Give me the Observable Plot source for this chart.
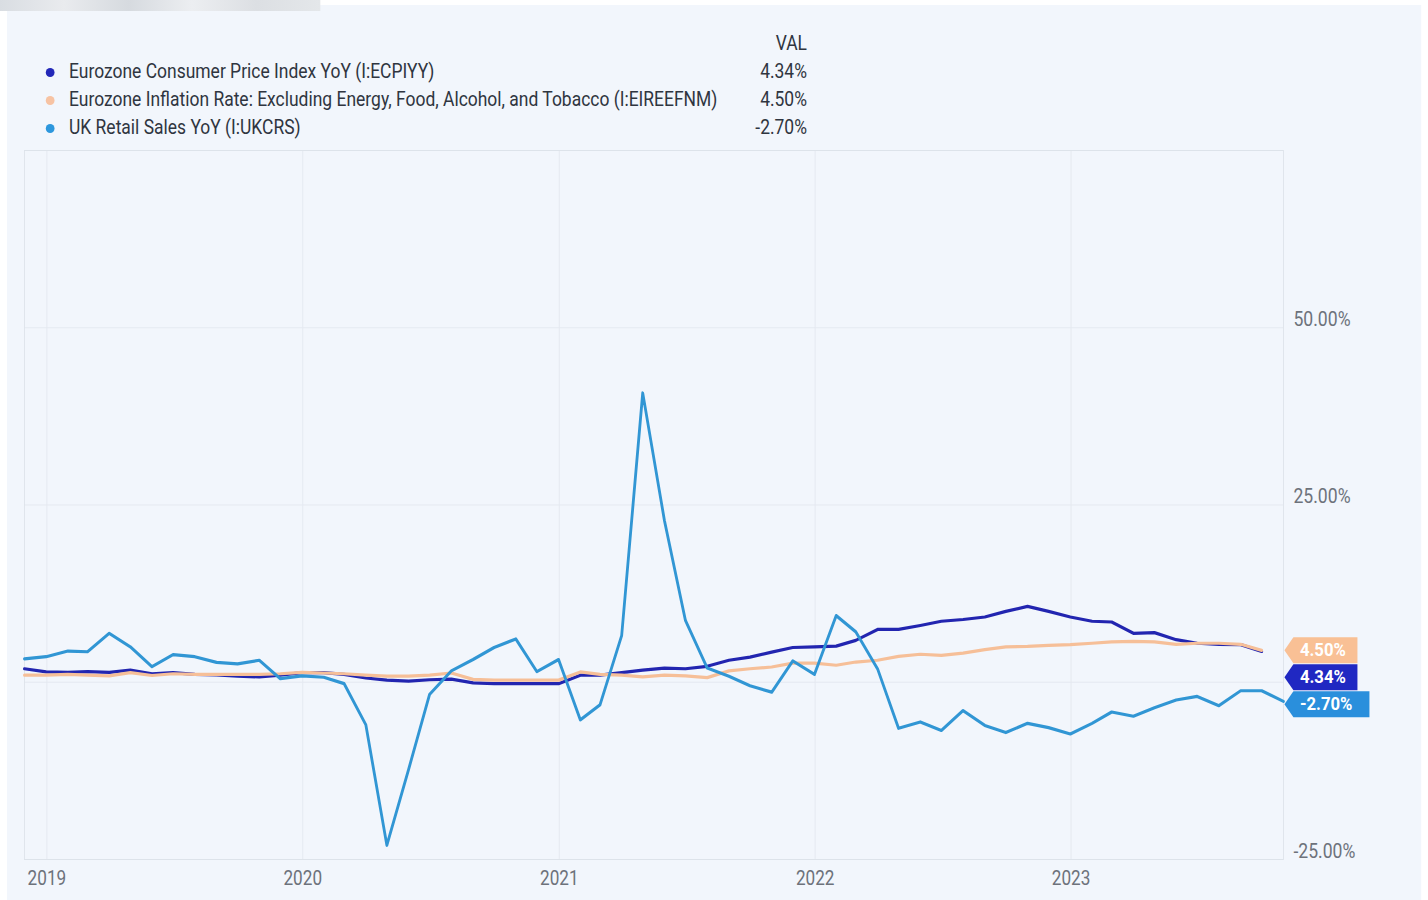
<!DOCTYPE html>
<html>
<head>
<meta charset="utf-8">
<script src="https://cdn.jsdelivr.net/npm/d3@7"></script>
<script src="https://cdn.jsdelivr.net/npm/@observablehq/plot@0.6"></script>
<style>
  html, body { margin: 0; padding: 0; background: #ffffff; overflow: hidden; }
  body { width: 1428px; height: 900px; position: relative; font-family: Roboto, "Noto Sans", sans-serif; }
  #wrap { position: absolute; left: 0; top: 0; width: 1623px; height: 900px; transform: scaleX(0.88); transform-origin: 0 0; }
  #card { position: absolute; left: 8px; top: 5px; width: 1607px; height: 895px; background: #f2f6fc; }
  #strip { position: absolute; left: 0; top: 0; width: 364px; height: 11px;
    background: linear-gradient(90deg, #d9dde2 0%, #e9ebee 20%, #d6dadf 40%, #eceef1 60%, #dcdfe3 80%, #e4e7ea 100%); }
  #legend { position: absolute; left: 0; top: 0; width: 1623px; height: 150px; color: #2f3540; font-size: 19.85px; }
  .lg-row { position: absolute; height: 28px; line-height: 28px; white-space: nowrap; }
  .lg-dot { position: absolute; width: 10px; height: 9px; border-radius: 50%; }
  #chart { position: absolute; left: 0; top: 140px; }
  #chart svg { overflow: visible; }
</style>
</head>
<body>
<div id="wrap">
  <div id="card"></div>
  <div id="strip"></div>
  <div id="legend"></div>
  <div id="chart"></div>
</div>
<script>
// ---------- data ----------
const seriesNames = [
  "Eurozone Consumer Price Index YoY (I:ECPIYY)",
  "Eurozone Inflation Rate: Excluding Energy, Food, Alcohol, and Tobacco (I:EIREEFNM)",
  "UK Retail Sales YoY (I:UKCRS)"
];
const seriesColors = ["#2225b0", "#f6bf98", "#3196d4"];
const legendDotColors = ["#2328b8", "#f7c3a3", "#2d97dd"];
const tagColors = ["#2028c2", "#f9c095", "#2a8fdc"];
const lastValueLabels = ["4.34%", "4.50%", "-2.70%"];
const lastValues = [4.34, 4.50, -2.70];
const valueHeader = "VAL";

// month-end observations starting Nov 2018
const firstMonthStart = [2018, 10]; // year, month index (Nov)

const cpiValues = [
  1.9, 1.45, 1.4, 1.5, 1.4, 1.7, 1.2, 1.35, 1.1, 1.05, 0.85, 0.75,
  1.0, 1.35, 1.35, 1.1, 0.6, 0.3, 0.15, 0.35, 0.45, -0.1, -0.2, -0.2,
  -0.2, -0.2, 1.0, 1.0, 1.35, 1.7, 2.0, 1.9, 2.25, 3.1, 3.55, 4.25,
  4.9, 5.0, 5.1, 5.9, 7.45, 7.45, 8.0, 8.6, 8.85, 9.2, 10.0, 10.7,
  10.0, 9.2, 8.6, 8.5, 6.9, 7.0, 6.0, 5.5, 5.35, 5.3, 4.34
];
const coreValues = [
  1.0, 1.0, 1.1, 1.0, 0.9, 1.35, 0.95, 1.2, 1.1, 1.1, 1.1, 1.1,
  1.2, 1.4, 1.3, 1.2, 1.0, 0.85, 0.85, 1.0, 1.3, 0.4, 0.3, 0.3,
  0.3, 0.3, 1.45, 1.1, 1.0, 0.75, 1.0, 0.9, 0.65, 1.6, 1.9, 2.15,
  2.7, 2.7, 2.4, 2.85, 3.1, 3.65, 3.95, 3.8, 4.1, 4.6, 5.0, 5.05,
  5.2, 5.3, 5.5, 5.7, 5.75, 5.7, 5.35, 5.5, 5.5, 5.35, 4.5
];
const ukValues = [
  3.3, 3.6, 4.4, 4.3, 6.9, 5.0, 2.2, 3.9, 3.6, 2.8, 2.6, 3.1,
  0.5, 0.9, 0.7, -0.2, -6.0, -23.0, -12.3, -1.7, 1.6, 3.2, 4.9, 6.1,
  1.5, 3.2, -5.3, -3.2, 6.6, 40.8, 22.8, 8.7, 2.0, 0.85, -0.5, -1.4,
  3.0, 1.1, 9.4, 7.1, 1.9, -6.5, -5.6, -6.8, -4.0, -6.1, -7.1, -5.8,
  -6.4, -7.3, -5.8, -4.2, -4.8, -3.6, -2.5, -2.0, -3.3, -1.2, -1.2, -2.7
];

const yTickValues = [-25, 25, 50];
const yGridValues = [0, 25, 50];
const xTickYears = [2019, 2020, 2021, 2022, 2023];
const yDomain = [-25, 75];

// ---------- helpers ----------
const S = 0.88;              // horizontal compression of the reference picture
const W = 1428 / S;
const monthEnd = (i) => d3.utcDay.offset(d3.utcMonth.offset(new Date(Date.UTC(firstMonthStart[0], firstMonthStart[1], 1)), i + 1), -1);
const toRows = (vals, k) => vals.map((v, i) => ({date: monthEnd(i), value: v, series: seriesNames[k]}));
const rows = [toRows(cpiValues, 0), toRows(coreValues, 1), toRows(ukValues, 2)];
const xDomain = [monthEnd(0), monthEnd(ukValues.length - 1)];
const yearDates = xTickYears.map(y => new Date(Date.UTC(y, 0, 1)));

// ---------- legend ----------
const legend = document.getElementById("legend");
const legendTop = 30, rowH = 28, rightEdge = 807 / S;
function valueCell(text, top) {
  const v = document.createElement("div");
  v.className = "lg-row";
  v.style.top = top + "px";
  v.style.left = (rightEdge - 200) + "px";
  v.style.width = "200px";
  v.style.textAlign = "right";
  v.textContent = text;
  legend.appendChild(v);
}
valueCell(valueHeader, legendTop);
seriesNames.forEach((name, k) => {
  const top = legendTop + rowH * (k + 1);
  const dot = document.createElement("div");
  dot.className = "lg-dot";
  dot.style.background = legendDotColors[k];
  dot.style.left = (50 / S - 5) + "px";
  dot.style.top = (top + 14 - 4.5) + "px";
  legend.appendChild(dot);
  const t = document.createElement("div");
  t.className = "lg-row";
  t.style.left = (69 / S) + "px";
  t.style.top = top + "px";
  t.textContent = name;
  legend.appendChild(t);
  valueCell(lastValueLabels[k], top);
});

// ---------- tag symbol ----------
function tagSymbol(widthRef) {
  const tip = 1 / S, a = 9 / S, w = widthRef / S, h = 13;
  return {
    draw(ctx) {
      ctx.moveTo(tip, 0);
      ctx.lineTo(tip + a, -h);
      ctx.lineTo(tip + w, -h);
      ctx.lineTo(tip + w, h);
      ctx.lineTo(tip + a, h);
      ctx.closePath();
    }
  };
}
const tagWidths = [73, 73, 85];

function build(tagMarks) {
  return Plot.plot({
    width: W,
    height: 760,
    marginLeft: 24 / S,
    marginRight: (1428 - 1283) / S,
    marginTop: 10,
    marginBottom: 41,
    style: {background: "transparent", fontFamily: "Roboto, 'Noto Sans', sans-serif", color: "#6d727b", overflow: "visible"},
    x: {type: "utc", domain: xDomain, label: null},
    y: {domain: yDomain, label: null},
    marks: [
      Plot.gridY(yGridValues, {stroke: "#e4e9f0", strokeOpacity: 1}),
      Plot.gridX(yearDates, {stroke: "#e4e9f0", strokeOpacity: 1}),
      Plot.frame({stroke: "#dde3ea"}),
      Plot.axisX(yearDates, {tickSize: 0, tickPadding: 12, tickFormat: d3.utcFormat("%Y"), fontSize: 19.5, label: null}),
      Plot.axisY(yTickValues, {anchor: "right", tickSize: 0, tickPadding: 11.4, textAnchor: "start", dy: -8,
        tickFormat: d => d.toFixed(2) + "%", fontSize: 20, label: null}),
      Plot.line(rows[0], {x: "date", y: "value", stroke: seriesColors[0], strokeWidth: 3.2, strokeLinejoin: "round"}),
      Plot.line(rows[1], {x: "date", y: "value", stroke: seriesColors[1], strokeWidth: 3.2, strokeLinejoin: "round"}),
      Plot.line(rows[2], {x: "date", y: "value", stroke: seriesColors[2], strokeWidth: 3.2, strokeLinejoin: "round"}),
      ...tagMarks
    ]
  });
}

// first pass: read the y scale to stack the value tags without overlap
const probe = build([]);
const yScale = probe.scale("y");
const order = d3.range(lastValues.length).sort((i, j) => lastValues[j] - lastValues[i]);
const tagH = 27;
let prev = -Infinity;
const tags = [];
order.forEach(k => {
  const py = yScale.apply(lastValues[k]);
  const placed = Math.max(py, prev + tagH);
  prev = placed;
  tags.push({k, value: lastValues[k], label: lastValueLabels[k], dy: placed - py});
});
const tagMarks = [];
tags.forEach(t => {
  tagMarks.push(Plot.dot([t], {frameAnchor: "right", y: "value", dy: t.dy, r: 5,
    symbol: tagSymbol(tagWidths[t.k]), fill: tagColors[t.k], stroke: "none"}));
  tagMarks.push(Plot.text([t], {frameAnchor: "right", y: "value", dy: t.dy, dx: 16.5 / S, text: "label",
    textAnchor: "start", fill: "#ffffff", fontWeight: 700, fontSize: 19}));
});

document.getElementById("chart").appendChild(build(tagMarks));
</script>
</body>
</html>
